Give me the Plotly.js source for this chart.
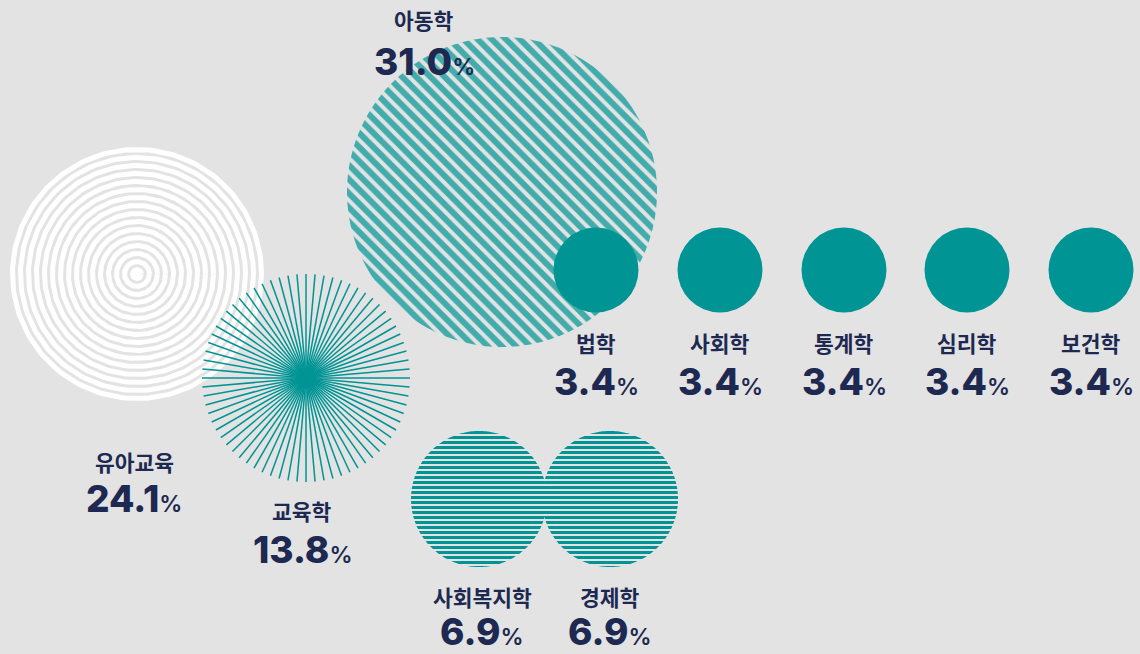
<!DOCTYPE html>
<html><head><meta charset="utf-8">
<script src="https://cdn.plot.ly/plotly-3.0.1.min.js"></script>
<style>html,body{margin:0;padding:0;background:#e3e3e3;overflow:hidden}#chart{width:1140px;height:654px}</style>
</head><body><div id="chart"></div>
<script>
// ---- data ----
const categories = ['아동학','유아교육','교육학','법학','사회학','통계학','심리학','보건학','사회복지학','경제학'];
const values = [31.0, 24.1, 13.8, 3.4, 3.4, 3.4, 3.4, 3.4, 6.9, 6.9];

// ---- layout (pixel placement, sizes, styles) ----
const centerX = [502, 137, 306, 596, 720, 844, 967, 1091, 479, 610];
const centerY = [192, 274, 378, 270, 270, 270, 270, 270, 499, 499];
const radius  = [155, 127, 104, 42.5, 42.5, 42.5, 42.5, 42.5, 68, 68];
const fillStyle = ['diagonal','rings','radial','solid','solid','solid','solid','solid','horizontal','horizontal'];
const nameX  = [424, 134, 302, 596, 720, 844, 967, 1091, 482, 610];
const nameY  = [19, 461, 510, 342, 342, 342, 342, 342, 596, 596];
const valueY = [61, 498, 549, 381, 381, 381, 381, 381, 631, 631];

const TEAL = '#009494', TEAL_LIGHT = '#42abab', NAVY = '#1d2951', BG = '#e3e3e3';

function circlePath(cx, cy, r, n) {
  const x = [], y = [];
  for (let i = 0; i <= n; i++) { const a = i / n * 2 * Math.PI; x.push(cx + r * Math.cos(a)); y.push(cy + r * Math.sin(a)); }
  return {x, y};
}
function ringsGeom(cx, cy, r) {
  const x = [], y = [];
  for (let rr = r - 2.5; rr > 4; rr -= 8) {
    const c = circlePath(cx, cy, rr, 200);
    x.push(...c.x, null); y.push(...c.y, null);
  }
  return {x, y};
}
function radialGeom(cx, cy, r, count) {
  const x = [], y = [];
  for (let i = 0; i < count; i++) {
    const a = i / count * 2 * Math.PI;
    x.push(cx, cx + r * Math.cos(a), null); y.push(cy, cy + r * Math.sin(a), null);
  }
  return {x, y};
}

const traces = [];
const order = ['rings', 'diagonal', 'radial', 'horizontal'];
order.forEach(style => {
  fillStyle.forEach((s, i) => {
    if (s !== style) return;
    const cx = centerX[i], cy = centerY[i], r = radius[i];
    if (s === 'rings') {
      const g = ringsGeom(cx, cy, r);
      traces.push({type: 'scatter', mode: 'lines', x: g.x, y: g.y, line: {color: '#ffffff', width: 5}, hoverinfo: 'skip', name: categories[i]});
      traces.push({type: 'scatter', mode: 'markers', x: [cx], y: [cy], marker: {size: 4, color: '#ffffff'}, hoverinfo: 'skip'});
    } else if (s === 'radial') {
      const g = radialGeom(cx, cy, r, 72);
      traces.push({type: 'scatter', mode: 'lines', x: g.x, y: g.y, line: {color: TEAL, width: 1.5}, hoverinfo: 'skip', name: categories[i]});
    } else {
      const c = circlePath(cx, cy, r, 240);
      const pat = s === 'diagonal'
        ? {shape: '\\', size: 10, solidity: 0.6, fgcolor: TEAL_LIGHT, bgcolor: 'rgba(0,0,0,0)', fillmode: 'replace'}
        : {shape: '-', size: 5, solidity: 0.6, fgcolor: TEAL, bgcolor: 'rgba(0,0,0,0)', fillmode: 'replace'};
      traces.push({type: 'scatter', mode: 'none', x: c.x, y: c.y, fill: 'toself', fillcolor: 'rgba(0,0,0,0)',
        fillpattern: pat, hoverinfo: 'skip', name: categories[i]});
    }
  });
});
// solid bubbles
const solidIdx = fillStyle.map((s, i) => s === 'solid' ? i : -1).filter(i => i >= 0);
traces.push({
  type: 'scatter', mode: 'markers',
  x: solidIdx.map(i => centerX[i]), y: solidIdx.map(i => centerY[i]),
  text: solidIdx.map(i => categories[i]),
  marker: {size: solidIdx.map(i => radius[i] * 2), sizemode: 'diameter', color: TEAL, line: {width: 0}, opacity: 1},
  hoverinfo: 'skip'
});

const annotations = [];
categories.forEach((c, i) => {
  annotations.push({x: nameX[i], y: nameY[i], xref: 'x', yref: 'y', text: c, showarrow: false,
    xanchor: 'center', yanchor: 'middle',
    font: {family: 'Noto Sans CJK KR, Noto Sans, sans-serif', size: 21.5, weight: 700, color: NAVY}});
  annotations.push({x: nameX[i], y: valueY[i], xref: 'x', yref: 'y',
    text: values[i].toFixed(1) + '<span style="font-size:23px;font-weight:600">%</span>', showarrow: false,
    xanchor: 'center', yanchor: 'middle',
    font: {family: 'Inter, Noto Sans, sans-serif', size: 37, weight: 800, color: NAVY}});
});

const layout = {
  width: 1140, height: 654, margin: {l: 0, r: 0, t: 0, b: 0, pad: 0},
  paper_bgcolor: BG, plot_bgcolor: BG, showlegend: false,
  xaxis: {range: [0, 1140], visible: false, fixedrange: true},
  yaxis: {range: [654, 0], visible: false, fixedrange: true},
  annotations: annotations
};
Plotly.newPlot('chart', traces, layout, {staticPlot: true, displayModeBar: false});
</script></body></html>
